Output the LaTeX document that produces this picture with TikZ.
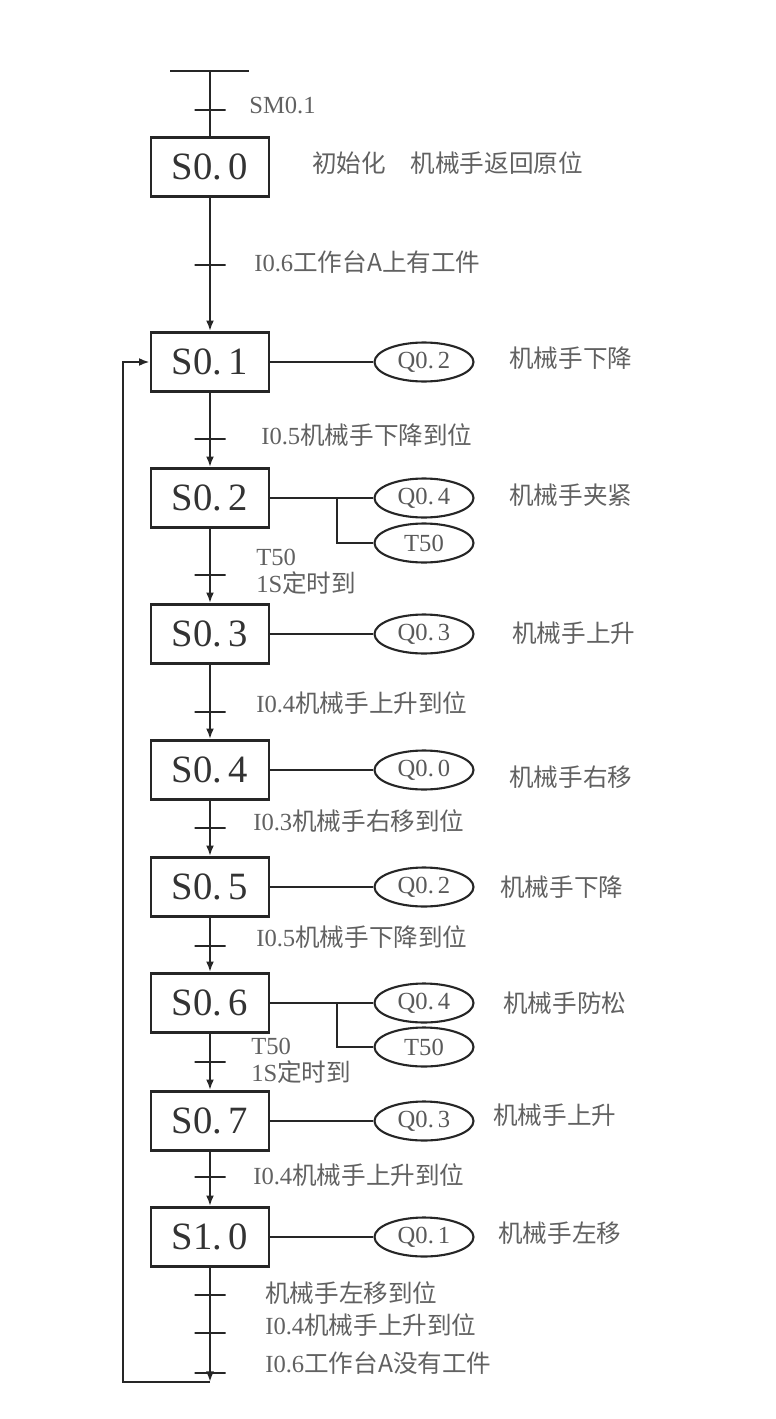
\documentclass[tikz,border=0pt]{standalone}
\usepackage{fontspec}
\setmainfont{Liberation Serif}
\newfontfamily\cjk{Noto Sans CJK SC}
\newcommand\zhtext[1]{{\cjk #1}}
\usetikzlibrary{shapes.geometric,arrows.meta}
\begin{document}
\begin{tikzpicture}[x=0.02cm,y=-0.02cm,
    stepbox/.style={draw=black!85,line width=1.6pt,minimum width=2.36cm,minimum height=1.18cm,inner sep=0pt,text=black!80,font=\fontsize{22}{24}\selectfont},
    coil/.style={draw=black!85,ellipse,line width=1.2pt,minimum width=1.98cm,minimum height=0.78cm,inner sep=0pt,text=black!65,font=\fontsize{14}{16}\selectfont},
    trans/.style={draw=black!85,line width=1.2pt,minimum width=0.62cm,minimum height=0pt,inner sep=0pt},
    lbl/.style={anchor=west,inner sep=0pt,text=black!62,font=\fontsize{14}{16}\selectfont},
    wire/.style={draw=black!85,line width=1.2pt},
    go/.style={wire,-{Latex[length=6pt,width=4.5pt]}}]
    \useasboundingbox (0,0) rectangle (776,1419);
    \coordinate (tl) at (170,71);
    \coordinate (tr) at (249,71);
    \coordinate (top) at (210,71);
    \draw[wire] (tl) -- (tr);
    \node[stepbox] (s00) at (210,167) {S0.\,0};
    \node[stepbox] (s01) at (210,362) {S0.\,1};
    \node[stepbox] (s02) at (210,498) {S0.\,2};
    \node[stepbox] (s03) at (210,634) {S0.\,3};
    \node[stepbox] (s04) at (210,770) {S0.\,4};
    \node[stepbox] (s05) at (210,887) {S0.\,5};
    \node[stepbox] (s06) at (210,1003) {S0.\,6};
    \node[stepbox] (s07) at (210,1121) {S0.\,7};
    \node[stepbox] (s10) at (210,1237) {S1.\,0};
    \draw[wire] (top) -- (s00);
    \draw[go] (s00) -- (s01);
    \draw[go] (s01) -- (s02);
    \draw[go] (s02) -- (s03);
    \draw[go] (s03) -- (s04);
    \draw[go] (s04) -- (s05);
    \draw[go] (s05) -- (s06);
    \draw[go] (s06) -- (s07);
    \draw[go] (s07) -- (s10);
    \node[trans] (t0) at (210,110) {};
    \node[trans] (t1) at (210,265) {};
    \node[trans] (t2) at (210,439) {};
    \node[trans] (t3) at (210,575) {};
    \node[trans] (t4) at (210,712) {};
    \node[trans] (t5) at (210,828) {};
    \node[trans] (t6) at (210,946) {};
    \node[trans] (t7) at (210,1062) {};
    \node[trans] (t8) at (210,1177) {};
    \node[trans] (t9) at (210,1295) {};
    \node[trans] (t10) at (210,1333) {};
    \node[trans] (t11) at (210,1373) {};
    \coordinate (b1) at (210,1382);
    \coordinate (b2) at (123,1382);
    \coordinate (b3) at (123,362);
    \draw[go] (s10) -- (b1);
    \draw[go] (b1) -- (b2) -- (b3) -- (s01);
    \node[coil] (q01) at (424,362) {Q0.\,2};
    \node[coil] (q02) at (424,498) {Q0.\,4};
    \node[coil] (tm02) at (424,543) {T50};
    \node[coil] (q03) at (424,634) {Q0.\,3};
    \node[coil] (q04) at (424,770) {Q0.\,0};
    \node[coil] (q05) at (424,887) {Q0.\,2};
    \node[coil] (q06) at (424,1003) {Q0.\,4};
    \node[coil] (tm06) at (424,1047) {T50};
    \node[coil] (q07) at (424,1121) {Q0.\,3};
    \node[coil] (q10) at (424,1237) {Q0.\,1};
    \coordinate (j02) at (337,498);
    \coordinate (j06) at (337,1003);
    \draw[wire] (s01) -- (q01);
    \draw[wire] (s02) -- (q02);
    \draw[wire] (j02) |- (tm02);
    \draw[wire] (s03) -- (q03);
    \draw[wire] (s04) -- (q04);
    \draw[wire] (s05) -- (q05);
    \draw[wire] (s06) -- (q06);
    \draw[wire] (j06) |- (tm06);
    \draw[wire] (s07) -- (q07);
    \draw[wire] (s10) -- (q10);
    \node[lbl] (c0) at (249,105) {SM0.1};
    \node[lbl] (n00) at (312,163) {\zhtext{初始化\quad 机械手返回原位}};
    \node[lbl] (c1) at (254,262) {I0.6\zhtext{工作台A上有工件}};
    \node[lbl] (n01) at (509,358) {\zhtext{机械手下降}};
    \node[lbl] (c2) at (261,435) {I0.5\zhtext{机械手下降到位}};
    \node[lbl] (n02) at (509,495) {\zhtext{机械手夹紧}};
    \node[lbl] (c3a) at (256,557) {T50};
    \node[lbl] (c3b) at (256,583) {1S\zhtext{定时到}};
    \node[lbl] (n03) at (512,633) {\zhtext{机械手上升}};
    \node[lbl] (c4) at (256,703) {I0.4\zhtext{机械手上升到位}};
    \node[lbl] (n04) at (509,777) {\zhtext{机械手右移}};
    \node[lbl] (c5) at (253,821) {I0.3\zhtext{机械手右移到位}};
    \node[lbl] (n05) at (500,887) {\zhtext{机械手下降}};
    \node[lbl] (c6) at (256,937) {I0.5\zhtext{机械手下降到位}};
    \node[lbl] (n06) at (503,1003) {\zhtext{机械手防松}};
    \node[lbl] (c7a) at (251,1046) {T50};
    \node[lbl] (c7b) at (251,1072) {1S\zhtext{定时到}};
    \node[lbl] (n07) at (493,1115) {\zhtext{机械手上升}};
    \node[lbl] (c8) at (253,1175) {I0.4\zhtext{机械手上升到位}};
    \node[lbl] (n10) at (498,1233) {\zhtext{机械手左移}};
    \node[lbl] (c9) at (265,1293) {\zhtext{机械手左移到位}};
    \node[lbl] (c10) at (265,1325) {I0.4\zhtext{机械手上升到位}};
    \node[lbl] (c11) at (265,1363) {I0.6\zhtext{工作台A没有工件}};
\end{tikzpicture}
\end{document}
